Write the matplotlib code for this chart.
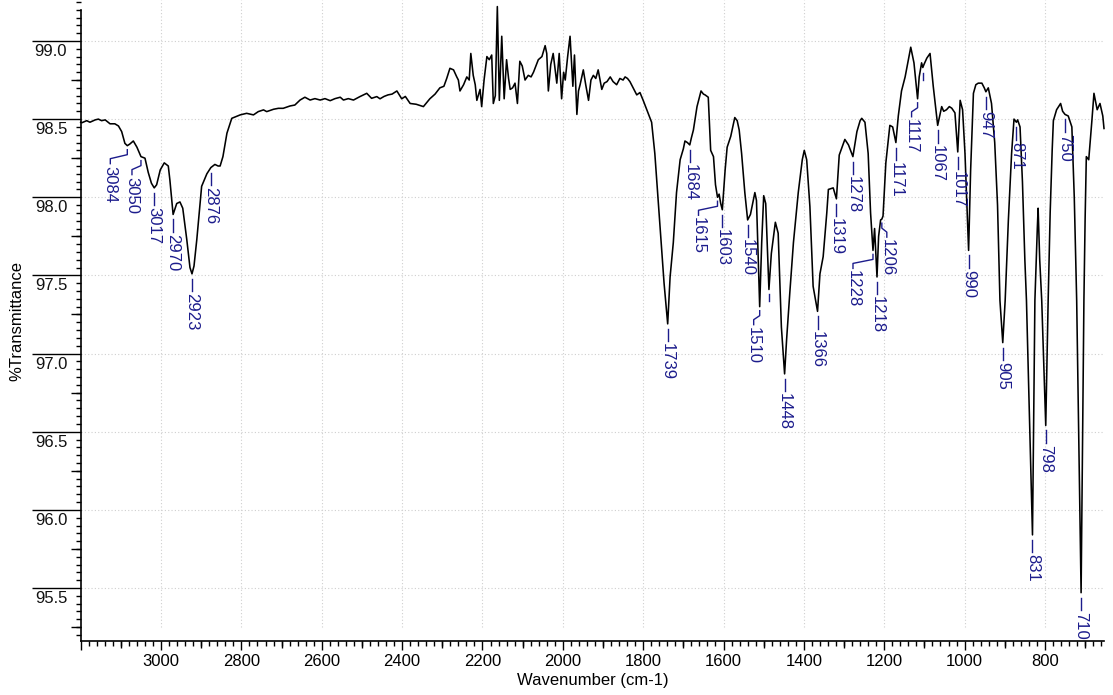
import numpy as np
import matplotlib
matplotlib.use("Agg")
import matplotlib.pyplot as plt
from matplotlib.ticker import FixedLocator, MultipleLocator

plt.rcParams['font.family'] = ['Liberation Sans', 'DejaVu Sans']

# ---------------- data ----------------
wavenumber = [
    3200, 3197, 3185, 3177, 3164, 3156, 3148, 3139, 3127, 3115, 3106, 3098, 3090, 3084, 3078, 3069,
    3060, 3050, 3040, 3032, 3024, 3017, 3011, 3002, 2992, 2982, 2978, 2970, 2961, 2953, 2946, 2936,
    2928, 2923, 2918, 2911, 2899, 2886, 2876, 2866, 2858, 2853, 2846, 2836, 2824, 2803, 2787, 2770,
    2758, 2745, 2737, 2720, 2708, 2696, 2679, 2667, 2654, 2642, 2629, 2617, 2604, 2592, 2579, 2567,
    2554, 2546, 2534, 2521, 2505, 2488, 2476, 2463, 2455, 2445, 2435, 2425, 2413, 2401, 2392, 2380,
    2365, 2347, 2331, 2318, 2306, 2296, 2289, 2281, 2272, 2264, 2260, 2256, 2247, 2239, 2233, 2229,
    2223, 2218, 2214, 2206, 2202, 2196, 2189, 2183, 2177, 2173, 2168, 2163, 2158, 2152, 2146, 2140,
    2135, 2131, 2125, 2119, 2113, 2107, 2101, 2094, 2086, 2079, 2073, 2067, 2061, 2052, 2044, 2040,
    2036, 2030, 2024, 2015, 2009, 2003, 1998, 1994, 1988, 1982, 1975, 1971, 1965, 1961, 1957, 1949,
    1943, 1936, 1930, 1924, 1918, 1912, 1903, 1897, 1890, 1882, 1875, 1866, 1858, 1850, 1845, 1839,
    1833, 1825, 1816, 1808, 1800, 1791, 1779, 1771, 1758, 1748, 1739, 1733, 1725, 1717, 1708, 1700,
    1696, 1690, 1684, 1680, 1675, 1666, 1656, 1650, 1646, 1638, 1632, 1625, 1620, 1615, 1611, 1607,
    1603, 1596, 1591, 1582, 1572, 1566, 1561, 1555, 1547, 1540, 1533, 1522, 1518, 1510, 1505, 1500,
    1495, 1487, 1481, 1471, 1464, 1456, 1448, 1443, 1435, 1426, 1414, 1404, 1399, 1393, 1385, 1377,
    1366, 1360, 1352, 1343, 1339, 1327, 1319, 1312, 1298, 1289, 1278, 1268, 1260, 1256, 1248, 1240,
    1234, 1228, 1224, 1218, 1214, 1209, 1206, 1203, 1196, 1186, 1179, 1171, 1165, 1157, 1148, 1140,
    1134, 1126, 1117, 1113, 1107, 1104, 1101, 1094, 1086, 1078, 1067, 1057, 1052, 1045, 1038, 1032,
    1024, 1017, 1011, 1005, 999, 990, 985, 978, 972, 966, 957, 951, 947, 941, 933, 925,
    918, 912, 905, 899, 891, 883, 877, 871, 868, 862, 856, 850, 846, 831, 825, 819,
    817, 813, 808, 798, 792, 787, 782, 779, 771, 761, 756, 750, 742, 733, 727, 721,
    710, 703, 700, 697, 691, 686, 683, 678, 670, 663, 656, 653,
]
transmittance = [
    98.48, 98.477, 98.49, 98.48, 98.495, 98.50, 98.49, 98.495, 98.47, 98.47, 98.456, 98.42, 98.345, 98.33, 98.34, 98.36,
    98.32, 98.26, 98.25, 98.16, 98.09, 98.06, 98.08, 98.175, 98.22, 98.20, 98.11, 97.89, 97.96, 97.97, 97.93, 97.73,
    97.55, 97.51, 97.56, 97.73, 98.07, 98.15, 98.19, 98.21, 98.20, 98.20, 98.26, 98.41, 98.505, 98.527, 98.537, 98.527,
    98.548, 98.559, 98.548, 98.563, 98.569, 98.569, 98.584, 98.59, 98.622, 98.64, 98.622, 98.631, 98.622, 98.631, 98.618, 98.631,
    98.64, 98.622, 98.631, 98.622, 98.644, 98.665, 98.633, 98.644, 98.63, 98.645, 98.655, 98.66, 98.68, 98.63, 98.645, 98.60,
    98.595, 98.58, 98.63, 98.66, 98.70, 98.71, 98.76, 98.825, 98.815, 98.77, 98.75, 98.68, 98.72, 98.77, 98.75, 98.92,
    98.78, 98.72, 98.62, 98.69, 98.58, 98.75, 98.90, 98.88, 98.91, 98.60, 98.65, 99.22, 98.62, 99.03, 98.63, 98.88,
    98.76, 98.69, 98.70, 98.73, 98.60, 98.87, 98.84, 98.75, 98.78, 98.77, 98.80, 98.84, 98.88, 98.90, 98.97, 98.92,
    98.68, 98.85, 98.92, 98.73, 98.92, 98.63, 98.80, 98.75, 98.90, 99.03, 98.71, 98.91, 98.53, 98.68, 98.72, 98.815,
    98.72, 98.62, 98.75, 98.78, 98.76, 98.815, 98.69, 98.73, 98.74, 98.77, 98.74, 98.72, 98.76, 98.75, 98.77, 98.76,
    98.74, 98.70, 98.655, 98.67, 98.62, 98.56, 98.48, 98.28, 97.81, 97.45, 97.19, 97.49, 97.71, 98.03, 98.24, 98.31,
    98.36, 98.35, 98.335, 98.38, 98.43, 98.58, 98.68, 98.66, 98.655, 98.64, 98.30, 98.26, 98.08, 98.00, 98.02, 97.96,
    97.92, 98.175, 98.32, 98.39, 98.51, 98.49, 98.43, 98.28, 98.03, 97.855, 97.89, 98.03, 97.98, 97.30, 97.71, 98.01,
    97.96, 97.41, 97.64, 97.84, 97.77, 97.17, 96.87, 97.09, 97.39, 97.71, 98.03, 98.24, 98.30, 98.24, 97.94, 97.43,
    97.27, 97.51, 97.62, 97.90, 98.05, 98.06, 97.99, 98.27, 98.37, 98.335, 98.26, 98.42, 98.49, 98.505, 98.48, 98.28,
    97.90, 97.66, 97.80, 97.49, 97.75, 97.855, 97.86, 97.88, 98.22, 98.46, 98.45, 98.35, 98.52, 98.68, 98.77, 98.88,
    98.96, 98.86, 98.63, 98.77, 98.86, 98.83, 98.85, 98.89, 98.92, 98.71, 98.46, 98.58, 98.55, 98.56, 98.58, 98.57,
    98.54, 98.29, 98.62, 98.56, 98.28, 97.66, 98.17, 98.665, 98.72, 98.73, 98.73, 98.70, 98.675, 98.70, 98.60, 98.35,
    97.95, 97.34, 97.07, 97.34, 97.855, 98.28, 98.50, 98.48, 98.495, 98.45, 98.10, 97.60, 97.34, 95.84, 97.34, 97.80,
    97.93, 97.60, 97.34, 96.54, 97.34, 97.90, 98.30, 98.49, 98.56, 98.60, 98.55, 98.53, 98.52, 98.45, 98.00, 97.34,
    95.47, 97.34, 97.86, 98.26, 98.24, 98.40, 98.495, 98.665, 98.56, 98.60, 98.52, 98.44,
]

peak_wavenumbers = [3084, 3050, 3017, 2970, 2923, 2876, 1739, 1684, 1615, 1603, 1540, 1510, 1448,
                    1366, 1319, 1278, 1228, 1218, 1206, 1171, 1117, 1067, 1017, 990, 947, 905,
                    871, 831, 798, 750, 710]
peak_labels = [str(p) for p in peak_wavenumbers]
unlabeled_marks = [1487, 1104]

x_major = [3200, 3000, 2800, 2600, 2400, 2200, 2000, 1800, 1600, 1400, 1200, 1000, 800]
x_major_labels = ['', '3000', '2800', '2600', '2400', '2200', '2000', '1800', '1600', '1400',
                  '1200', '1000', '800']
y_major = [95.5, 96.0, 96.5, 97.0, 97.5, 98.0, 98.5, 99.0]
y_major_labels = ['95.5', '96.0', '96.5', '97.0', '97.5', '98.0', '98.5', '99.0']

x_label = 'Wavenumber (cm-1)'
y_label = '%Transmittance'

# ---------------- layout / style ----------------
W, H = 1113, 695
NAVY = '#1c1c8c'
FS = 12
# label connector shifts (pixels) for labels moved sideways to avoid overlap
label_shift_px = {3084: -17, 3050: -9, 1615: -19, 1510: -6, 1228: -20, 1206: 5, 1117: -6}

fig = plt.figure(figsize=(W / 100, H / 100), dpi=100)
ax_l, ax_r, ax_b, ax_t = 80.7, 1104.0, 640.7, 0.0
ax = fig.add_axes([ax_l / W, 1 - ax_b / H, (ax_r - ax_l) / W, (ax_b - ax_t) / H])
ax_w_px = ax_r - ax_l
ax_h_px = ax_b - ax_t

ax.plot(wavenumber, transmittance, color='black', lw=1.15, clip_on=False, zorder=3)

YLO, YHI = 95.163, 99.262
ax.set_xlim(3200, 653)
ax.set_ylim(YLO, YHI)

for s in ('top', 'right'):
    ax.spines[s].set_visible(False)
for s in ('left', 'bottom'):
    ax.spines[s].set_linewidth(1.2)
ax.spines['left'].set_bounds(YLO, 99.2)

# x ticks
ax.xaxis.set_major_locator(FixedLocator(x_major))
ax.set_xticklabels(x_major_labels)
ax.xaxis.set_minor_locator(MultipleLocator(20))
ax.tick_params(axis='x', which='major', direction='out', length=6.8, width=1.0,
               labelsize=FS, pad=2.5)
ax.tick_params(axis='x', which='minor', direction='out', length=3.3, width=1.0)

# y ticks
ax.yaxis.set_major_locator(FixedLocator(y_major))
ax.yaxis.set_minor_locator(MultipleLocator(0.05))
ax.tick_params(axis='y', which='major', direction='out', length=35, width=1.0, labelleft=False)
ax.tick_params(axis='y', which='minor', direction='out', length=3.6, width=1.0)

# y labels under the long tick lines
for v, lab in zip(y_major, y_major_labels):
    ax.annotate(lab, xy=(0, v), xycoords=ax.get_yaxis_transform(), xytext=(-13.5, -10.5),
                textcoords='offset pixels', ha='right', va='center', fontsize=FS, color='#111111')

# intermediate (longer) minor ticks
ymid = [v + 0.25 for v in np.arange(95.0, 99.0, 0.5) if YLO < v + 0.25 < 99.2]
for v in ymid:
    ax.plot([-10 / ax_w_px, 0], [v, v], transform=ax.get_yaxis_transform(), color='black',
            lw=1.0, clip_on=False, solid_capstyle='butt')
xmid = [v for v in range(700, 3200, 200)]
for v in xmid:
    ax.plot([v, v], [0, -7 / ax_h_px], transform=ax.get_xaxis_transform(), color='black',
            lw=1.0, clip_on=False, solid_capstyle='butt')

# grid (dotted)
ax.vlines(x_major[1:], 95.25, YHI, color='#cfcfcf', lw=0.8, linestyles=[(0, (1, 2))], zorder=1)
ax.hlines(y_major, 3200, 653, color='#cfcfcf', lw=0.8, linestyles=[(0, (1, 2))], zorder=1)

# axis titles
fig.text(17 / W, 1 - 321 / H, y_label, rotation=90, ha='center', va='center', fontsize=FS)
fig.text((ax_l + ax_r) / 2 / W, 1 - 680 / H, x_label, ha='center', va='center', fontsize=FS)

# peak labels
order = np.argsort(wavenumber)
wn_sorted = np.asarray(wavenumber, float)[order]
tr_sorted = np.asarray(transmittance, float)[order]
to_disp = ax.transData.transform
to_data = ax.transData.inverted().transform


def connector(wn, shift):
    t = np.interp(wn, wn_sorted, tr_sorted)
    px, py = to_disp((wn, t))
    if shift == 0:
        pts = [(px, py - 5), (px, py - 17.5)]
        anchor = (px, py - 19.5)
    else:
        pts = [(px, py - 4), (px, py - 9), (px + shift, py - 13), (px + shift, py - 18)]
        anchor = (px + shift, py - 20)
    d = to_data(pts)
    ax.plot(d[:, 0], d[:, 1], color=NAVY, lw=1.0, clip_on=False, zorder=4)
    return to_data([anchor])[0]


for wn, lab in zip(peak_wavenumbers, peak_labels):
    ax_, ay_ = connector(wn, label_shift_px.get(wn, 0))
    ax.text(ax_, ay_, lab, rotation=270, rotation_mode='anchor', ha='left', va='center',
            color=NAVY, fontsize=FS, clip_on=False, zorder=4)

for wn in unlabeled_marks:
    t = np.interp(wn, wn_sorted, tr_sorted)
    px, py = to_disp((wn, t))
    d = to_data([(px, py - 5), (px, py - 12)])
    ax.plot(d[:, 0], d[:, 1], color=NAVY, lw=1.0, clip_on=False, zorder=4)

fig.savefig('out.png', dpi=100)
